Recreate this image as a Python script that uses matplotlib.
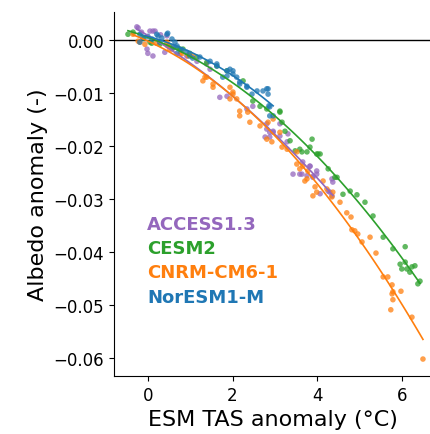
import numpy as np
import matplotlib
matplotlib.use("Agg")
import matplotlib.pyplot as plt

models = ["ACCESS1.3", "CESM2", "CNRM-CM6-1", "NorESM1-M"]
colors = ["#9467bd", "#2ca02c", "#ff7f0e", "#1f77b4"]

access_x = [-0.26, -0.23, -0.15, 0.05, 0.12, 0.17, 0.30, -0.02, 0.0, 0.12, 0.40, 0.45, 0.60, 0.92, 1.16,
            1.39, 1.47, 1.70, 1.87, 2.34, 2.48, 2.77, 2.81, 2.81, 2.88, 2.88, 2.96, 2.96,
            3.12, 3.12, 3.29, 3.31, 3.43, 3.59, 3.64, 3.66, 3.76, 3.83, 3.83, 3.90, 3.90,
            3.99, 3.99, 4.07, 4.26, 4.30, 4.35, 4.35, 4.37]
access_y = [0.0025, 0.0023, 0.0015, 0.0017, 0.0017, 0.0017, 0.0010, -0.0017, -0.0025, -0.0030, -0.0023, 0.0008, -0.0012, -0.0030, -0.0040,
            -0.0045, -0.0055, -0.0108, -0.0106, -0.0130, -0.0125, -0.0183, -0.0158, -0.0168, -0.0174, -0.0183, -0.0172, -0.0174,
            -0.0158, -0.0181, -0.0192, -0.0177, -0.0253, -0.0253, -0.0253, -0.0230, -0.0256, -0.0238, -0.0238, -0.0257, -0.0259,
            -0.0247, -0.0253, -0.0290, -0.0285, -0.0287, -0.0262, -0.0294, -0.0268]

cesm_x = [-0.47, -0.35, -0.10, 0.05, 0.09, 0.28, 0.50, 0.71, 0.76, 0.83, 0.99, 1.16, 1.39, 1.63, 1.87,
          2.25, 2.48, 2.65, 2.81, 3.12, 3.12, 3.17, 3.24, 3.36, 3.48, 3.59, 3.64, 3.76,
          3.83, 3.88, 3.99, 4.02, 4.07, 4.26, 4.42, 4.47, 4.61, 4.78, 4.94, 5.13, 5.32,
          5.56, 5.79, 5.96, 6.00, 6.08, 6.08, 6.12, 6.19, 6.24, 6.31, 6.38, 6.43]
cesm_y = [0.0011, 0.0015, 0.0003, -0.0004, -0.0006, -0.0008, -0.0010, -0.0015, -0.0017, -0.0017, -0.0025, -0.0032, -0.0042, -0.0049, -0.0058,
          -0.0077, -0.0115, -0.0125, -0.0130, -0.0134, -0.0136, -0.0155, -0.0172, -0.0190, -0.0209, -0.0206, -0.0211, -0.0211,
          -0.0202, -0.0187, -0.0215, -0.0215, -0.0215, -0.0243, -0.0259, -0.0259, -0.0291, -0.0285, -0.0292, -0.0306, -0.0332,
          -0.0372, -0.0394, -0.0423, -0.0432, -0.0390, -0.0419, -0.0432, -0.0438, -0.0428, -0.0426, -0.0460, -0.0455]

cnrm_x = [-0.35, -0.23, -0.19, -0.07, 0.20, 0.45, 0.47, 0.52, 0.57, 0.76, 0.80, 0.95, 1.06, 1.30,
          1.35, 1.39, 1.54, 1.54, 1.94, 1.94, 2.01, 2.01, 2.10, 2.17, 2.17, 2.36, 2.41,
          2.65, 2.81, 2.84, 2.93, 2.96, 3.12, 3.17, 3.29, 3.52, 3.52, 3.59, 3.66, 3.71,
          3.76, 3.78, 3.90, 3.95, 3.99, 4.14, 4.23, 4.35, 4.37, 4.54, 4.70, 4.80, 4.82,
          4.89, 4.96, 5.06, 5.25, 5.39, 5.56, 5.67, 5.74, 5.77, 5.77, 5.79, 5.79, 5.98,
          6.24, 6.50]
cnrm_y = [0.0011, -0.0002, -0.0004, -0.0008, -0.0006, -0.0004, -0.0011, -0.0017, -0.0017, -0.0026, -0.0026, -0.0030, -0.0030, -0.0077,
          -0.0070, -0.0070, -0.0089, -0.0083, -0.0089, -0.0111, -0.0098, -0.0102, -0.0111, -0.0143, -0.0134, -0.0136, -0.0155,
          -0.0162, -0.0187, -0.0155, -0.0192, -0.0149, -0.0174, -0.0202, -0.0206, -0.0211, -0.0234, -0.0243, -0.0238, -0.0266,
          -0.0262, -0.0247, -0.0294, -0.0277, -0.0287, -0.0266, -0.0281, -0.0296, -0.0287, -0.0306, -0.0326, -0.0334, -0.0358,
          -0.0360, -0.0366, -0.0381, -0.0372, -0.0402, -0.0447, -0.0447, -0.0509, -0.0462, -0.0479, -0.0475, -0.0490, -0.0474,
          -0.0523, -0.0602]

nor_x = [-0.19, -0.12, -0.19, 0.0, 0.10, 0.21, 0.24, 0.28, 0.33, 0.45, 0.47, 0.57, 0.59, 0.64, 0.69,
         0.69, 0.80, 0.92, 0.99, 1.06, 1.23, 1.47, 1.63, 1.63, 1.77, 1.87, 1.87, 1.94, 2.01,
         2.01, 2.10, 2.17, 2.17, 2.34, 2.34, 2.46, 2.58, 2.72, 2.81, 2.84, 2.84, 2.86,
         2.88, 2.88, 2.96]
nor_y = [0.0011, 0.0004, -0.0004, 0.0007, 0.0002, 0.0011, 0.0008, -0.0004, 0.0004, 0.0011, 0.0013, 0.0002, -0.0015, -0.0004, -0.0011,
         -0.0025, -0.0018, -0.0023, -0.0030, -0.0034, -0.0032, -0.0040, -0.0045, -0.0049, -0.0070, -0.0058, -0.0068, -0.0055, -0.0064,
         -0.0058, -0.0070, -0.0083, -0.0079, -0.0089, -0.0087, -0.0102, -0.0096, -0.0096, -0.0092, -0.0102, -0.0092, -0.0124,
         -0.0126, -0.0143, -0.0143]

data = [(access_x, access_y), (cesm_x, cesm_y), (cnrm_x, cnrm_y), (nor_x, nor_y)]

fig = plt.figure(figsize=(4.31, 4.35), dpi=100)
ax = fig.add_axes([114/431, 58/435, 317/431, 364/435])

ax.axhline(0, color="black", lw=1.0, zorder=1)

for (xs, ys), c in zip(data, colors):
    xs = np.array(xs); ys = np.array(ys)
    ax.scatter(xs, ys, s=16, color=c, alpha=0.75, edgecolors="none", zorder=2)
for (xs, ys), c in zip(data, colors):
    xs = np.array(xs); ys = np.array(ys)
    p = np.polyfit(xs, ys, 2)
    xx = np.linspace(xs.min(), xs.max(), 100)
    ax.plot(xx, np.polyval(p, xx), color=c, lw=1.2, zorder=3)

ax.set_xlim(-0.8, 6.69)
ax.set_ylim(-0.0634, 0.0053)
ax.set_xticks([0, 2, 4, 6])
ax.set_yticks([0.0, -0.01, -0.02, -0.03, -0.04, -0.05, -0.06])
ax.set_yticklabels(["0.00", "\u22120.01", "\u22120.02", "\u22120.03", "\u22120.04", "\u22120.05", "\u22120.06"])
ax.tick_params(labelsize=12)
ax.spines["top"].set_visible(False)
ax.spines["right"].set_visible(False)
ax.set_xlabel("ESM TAS anomaly (°C)", fontsize=16)
ax.set_ylabel("Albedo anomaly (-)", fontsize=16)

ypos = [0.418, 0.352, 0.286, 0.217]
for m, c, yp in zip(models, colors, ypos):
    ax.text(0.104, yp, m, color=c, fontsize=13, fontweight="bold",
            transform=ax.transAxes, va="center", ha="left")

fig.savefig("out.png", dpi=100)
